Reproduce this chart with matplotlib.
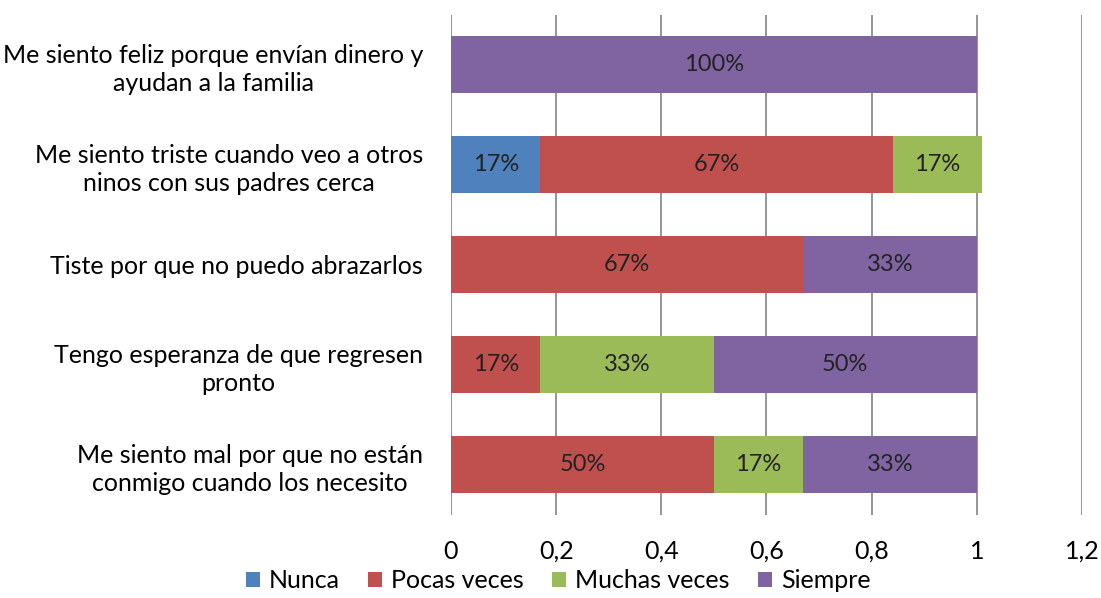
import numpy as np
import matplotlib.pyplot as plt

plt.rcParams['font.family'] = ['Lato', 'DejaVu Sans']

categories = ['Me siento feliz porque envían dinero y\nayudan a la familia',
              'Me siento triste cuando veo a otros\nninos con sus padres cerca',
              'Tiste por que no puedo abrazarlos',
              'Tengo esperanza de que regresen\npronto',
              'Me siento mal por que no están\nconmigo cuando los necesito']
series_names = ['Nunca', 'Pocas veces', 'Muchas veces', 'Siempre']
nunca = [0, 0.17, 0, 0, 0]
pocas = [0, 0.67, 0.67, 0.17, 0.50]
muchas = [0, 0.17, 0, 0.33, 0.17]
siempre = [1.00, 0, 0.33, 0.50, 0.33]
colors = ['#4F81BD', '#C0504D', '#9BBB59', '#8064A2']
xticks = [0, 0.2, 0.4, 0.6, 0.8, 1.0, 1.2]
xtick_labels = ['0', '0,2', '0,4', '0,6', '0,8', '1', '1,2']

fig = plt.figure(figsize=(11.01, 5.98), dpi=100)
ax = fig.add_axes([0.4096, 0.1388, 0.5731, 0.8362])

y = np.arange(len(categories))[::-1]
left = np.zeros(len(categories))
for name, vals, col in zip(series_names, [nunca, pocas, muchas, siempre], colors):
    vals = np.array(vals)
    ax.barh(y, vals, left=left, height=0.57, color=col, label=name, zorder=2)
    for yi, l, v in zip(y, left, vals):
        if v > 0:
            ax.text(l + v / 2, yi, f'{round(v * 100):d}%', ha='center', va='center',
                    fontsize=17, color='#222222', zorder=3)
    left = left + vals

ax.set_xlim(0, 1.2)
ax.set_ylim(-0.5, len(categories) - 0.5)
ax.set_xticks(xticks)
ax.set_xticklabels(xtick_labels, fontsize=18)
ax.set_yticks(y)
ax.set_yticklabels(categories, fontsize=18, multialignment='center', linespacing=1.25)
ax.tick_params(axis='x', length=0, pad=18)
ax.tick_params(axis='y', length=0, pad=20)
ax.xaxis.grid(True, color='#8C8C8C', linewidth=1.3, zorder=1)
ax.set_axisbelow(True)
for s in ax.spines.values():
    s.set_visible(False)

fig.legend(loc='lower center', bbox_to_anchor=(0.507, -0.028), ncol=4, frameon=False,
           fontsize=18, handlelength=0.56, handleheight=0.56, handletextpad=0.35,
           columnspacing=1.15)

fig.savefig('out.png', dpi=100)
